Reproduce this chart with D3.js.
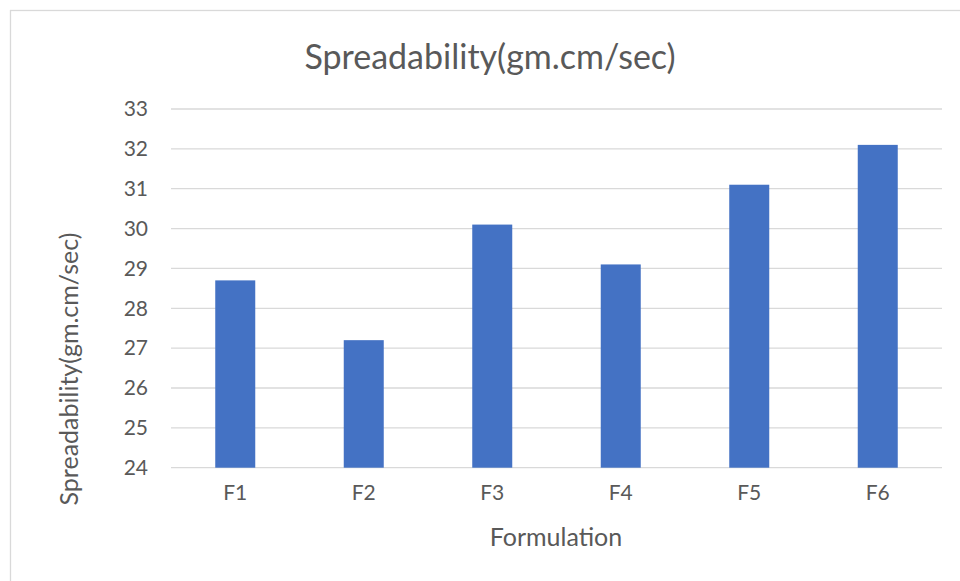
<!DOCTYPE html>
<html>
<head>
<meta charset="utf-8">
<script src="https://cdn.jsdelivr.net/npm/d3@7"></script>
<style>
  html, body { margin: 0; padding: 0; background: #fff; }
  svg { display: block; }
  text { font-family: Lato, "Open Sans", sans-serif; fill: #595959; }
</style>
</head>
<body>
<script>
const categories = ["F1", "F2", "F3", "F4", "F5", "F6"];
const values = [28.7, 27.2, 30.1, 29.1, 31.1, 32.1];
const yTicks = [24, 25, 26, 27, 28, 29, 30, 31, 32, 33];
const chartTitle = "Spreadability(gm.cm/sec)";
const xTitle = "Formulation";
const yTitle = "Spreadability(gm.cm/sec)";

(function () {
const W = 960, H = 581;
const svg = d3.select("body").append("svg").attr("width", W).attr("height", H);

// outer chart border (extends beyond the visible window to the right and bottom)
svg.append("rect").attr("x", 10.5).attr("y", 10.5).attr("width", 1000).attr("height", 1000)
  .attr("fill", "#fff").attr("stroke", "#D9D9D9").attr("stroke-width", 1.3);

const pLeft = 171, pRight = 942, pTop = 109, pBottom = 467.7;

const x = d3.scaleBand().domain(categories).range([pLeft, pRight]).padding(0);
const y = d3.scaleLinear().domain([24, 33]).range([pBottom, pTop]);
const barW = 40;

// gridlines
svg.append("g").selectAll("line").data(yTicks).join("line")
  .attr("x1", pLeft).attr("x2", pRight)
  .attr("y1", d => y(d)).attr("y2", d => y(d))
  .attr("stroke", "#D9D9D9").attr("stroke-width", 1.3);

// bars
svg.append("g").selectAll("rect").data(values).join("rect")
  .attr("x", (d, i) => x(categories[i]) + x.bandwidth() / 2 - barW / 2)
  .attr("width", barW)
  .attr("y", d => y(d))
  .attr("height", d => y(24) - y(d))
  .attr("fill", "#4472C4");

// y axis (labels only)
const yAxis = d3.axisLeft(y).tickValues(yTicks).tickSize(0).tickPadding(0).tickFormat(d3.format("d"));
const gy = svg.append("g").attr("transform", `translate(148,0)`).call(yAxis);
gy.select(".domain").remove();
gy.selectAll("text").style("font-family", "Lato, sans-serif").style("font-size", "21px").attr("fill", "#595959");

// x axis (labels only)
const xAxis = d3.axisBottom(x).tickSize(0).tickPadding(0);
const gx = svg.append("g").attr("transform", `translate(0,485)`).call(xAxis);
gx.select(".domain").remove();
gx.selectAll("text").style("font-family", "Lato, sans-serif").style("font-size", "21px").attr("fill", "#595959");

// title
svg.append("text").attr("x", 490).attr("y", 69).attr("text-anchor", "middle")
  .style("font-size", "34px").text(chartTitle);

// axis titles
svg.append("text").attr("x", 556).attr("y", 546).attr("text-anchor", "middle")
  .style("font-size", "25px").text(xTitle);
svg.append("text").attr("transform", "translate(78,369) rotate(-90)").attr("text-anchor", "middle")
  .style("font-size", "25px").text(yTitle);
})();
</script>
</body>
</html>
